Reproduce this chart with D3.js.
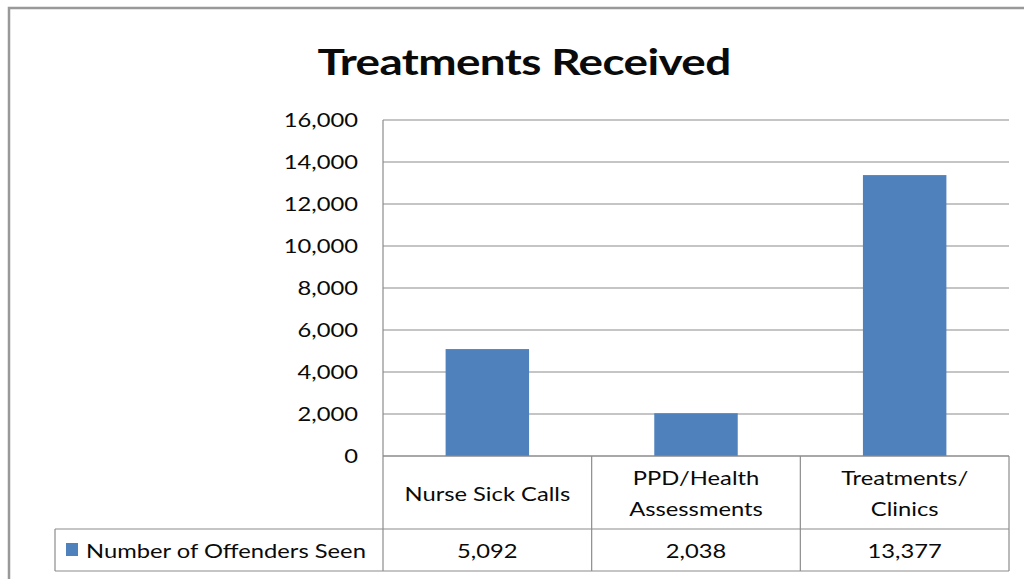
<!DOCTYPE html>
<html>
<head>
<meta charset="utf-8">
<script src="https://cdn.jsdelivr.net/npm/d3@7"></script>
<style>
  body { margin: 0; background: #fff; }
  text { font-family: Lato, "Open Sans", sans-serif; fill: #0a0a0a; }
</style>
</head>
<body>
<svg id="chart" width="1024" height="579"></svg>
<script>
// data
const categories = ["Nurse Sick Calls", "PPD/Health Assessments", "Treatments/ Clinics"];
const categoryLines = [["Nurse Sick Calls"], ["PPD/Health", "Assessments"], ["Treatments/", "Clinics"]];
const seriesName = "Number of Offenders Seen";
const values = [5092, 2038, 13377];
const yTicks = [0, 2000, 4000, 6000, 8000, 10000, 12000, 14000, 16000];

const width = 1024, height = 579;
const SX = 1.25; // the original picture is stretched sideways
const fontSize = 19;
const gridColor = "#8c8c8c";
const barColor = "#4f81bd";

const svg = d3.select("#chart");
svg.append("rect").attr("width", width).attr("height", height).attr("fill", "#fff");

// outer chart border (right and bottom run off the picture)
svg.append("rect")
  .attr("x", 9).attr("y", 8)
  .attr("width", 1100).attr("height", 700)
  .attr("fill", "none").attr("stroke", "#999").attr("stroke-width", 2.5);

// puts a text at x,y and stretches it sideways
function label(g, x, y, txt, size, anchor, weight, sx) {
  return g.append("text")
    .attr("transform", `translate(${x},${y}) scale(${sx || SX},1)`)
    .attr("text-anchor", anchor || "middle")
    .attr("font-size", size)
    .attr("font-weight", weight || "normal")
    .text(txt);
}

label(svg, 524, 75, "Treatments Received", 37, "middle", "bold", 1.24).style("letter-spacing", "-0.5px");

const plotLeft = 383, plotRight = 1009, plotTop = 120, plotBottom = 456;
const headBottom = 529, tableBottom = 571, tableLeft = 55;

const y = d3.scaleLinear().domain([0, 16000]).range([plotBottom, plotTop]);
const x = d3.scaleBand().domain(categories).range([plotLeft, plotRight])
  .paddingInner(0.6).paddingOuter(0.3);
const col = d3.scaleBand().domain(categories).range([plotLeft, plotRight]);

const fmt = d3.format(",");

// gridlines
svg.append("g").selectAll("line")
  .data(yTicks)
  .join("line")
  .attr("x1", plotLeft).attr("x2", plotRight)
  .attr("y1", d => y(d)).attr("y2", d => y(d))
  .attr("stroke", gridColor).attr("stroke-width", 1.2);

// y tick labels
const tickG = svg.append("g");
yTicks.forEach(t => label(tickG, 358, y(t) + 7, fmt(t), fontSize, "end"));

// bars
svg.append("g").selectAll("rect")
  .data(values)
  .join("rect")
  .attr("x", (d, i) => x(categories[i]))
  .attr("width", x.bandwidth())
  .attr("y", d => y(d))
  .attr("height", d => y(0) - y(d))
  .attr("fill", barColor);

// data table lines
const lines = svg.append("g").attr("stroke", gridColor).attr("stroke-width", 1.2);
lines.append("line").attr("x1", plotLeft).attr("x2", plotLeft).attr("y1", plotTop).attr("y2", tableBottom);
lines.append("line").attr("x1", plotLeft).attr("x2", plotRight).attr("y1", plotBottom).attr("y2", plotBottom);
lines.append("line").attr("x1", tableLeft).attr("x2", plotRight).attr("y1", headBottom).attr("y2", headBottom);
lines.append("line").attr("x1", tableLeft).attr("x2", plotRight).attr("y1", tableBottom).attr("y2", tableBottom);
lines.append("line").attr("x1", tableLeft).attr("x2", tableLeft).attr("y1", headBottom).attr("y2", tableBottom);
categories.forEach(c => {
  lines.append("line")
    .attr("x1", col(c) + col.bandwidth()).attr("x2", col(c) + col.bandwidth())
    .attr("y1", plotBottom).attr("y2", tableBottom);
});

// category header cells
const headG = svg.append("g");
categories.forEach((c, i) => {
  const cx = col(c) + col.bandwidth() / 2;
  const ls = categoryLines[i];
  const mid = (plotBottom + headBottom) / 2 + 8;
  ls.forEach((l, j) => {
    label(headG, cx, mid + (j - (ls.length - 1) / 2) * 31, l, fontSize, "middle");
  });
});

// legend key + values row
const rowY = 558;
svg.append("rect").attr("x", 66).attr("y", 543).attr("width", 12).attr("height", 13).attr("fill", barColor);
label(svg, 86, rowY, seriesName, fontSize, "start");
values.forEach((v, i) => {
  label(svg, col(categories[i]) + col.bandwidth() / 2, rowY, fmt(v), fontSize, "middle");
});
</script>
</body>
</html>
